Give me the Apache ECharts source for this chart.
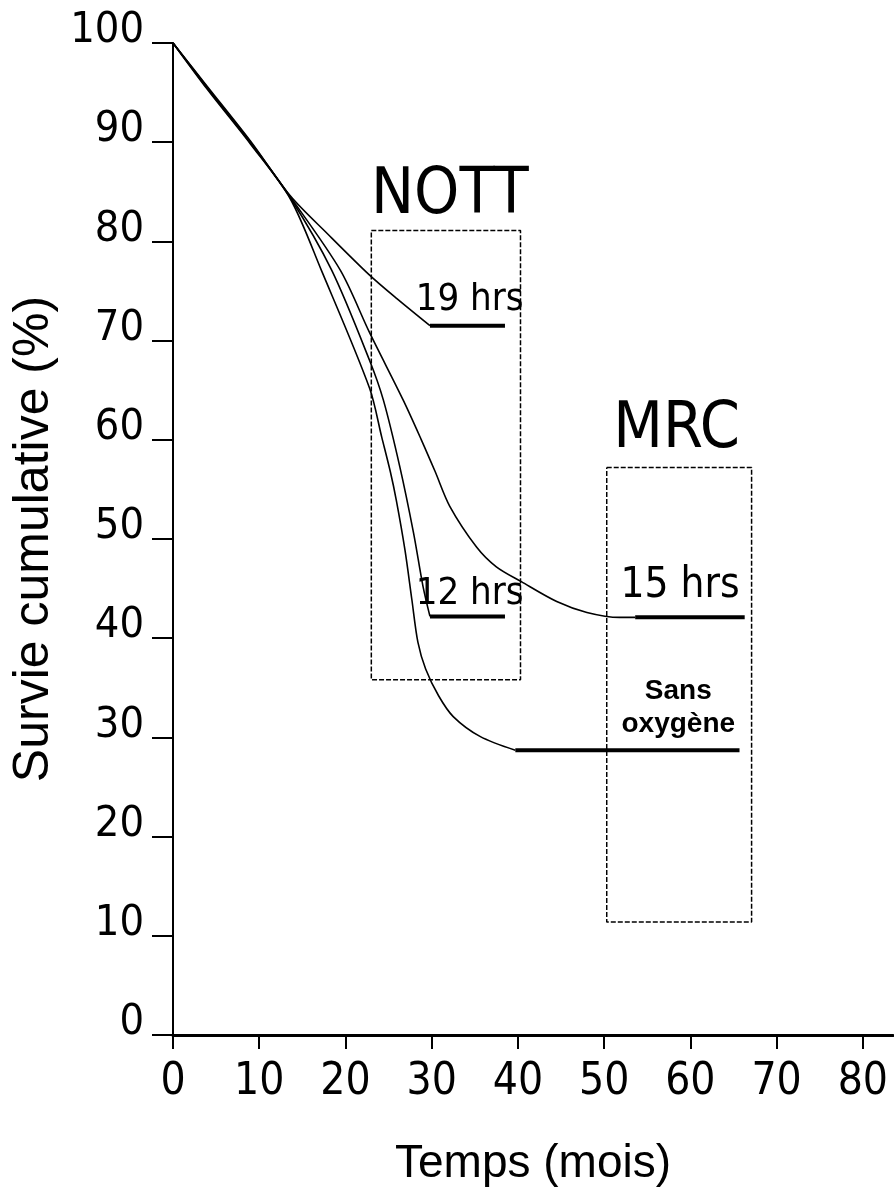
<!DOCTYPE html>
<html><head><meta charset="utf-8">
<script src="https://cdn.jsdelivr.net/npm/echarts@6/dist/echarts.min.js"></script>
<style>html,body{margin:0;padding:0;background:#fff}#c{width:894px;height:1195px}</style>
</head><body><div id="c"></div>
<script>
// ---- data ----
const xTickValues = [0, 10, 20, 30, 40, 50, 60, 70, 80];
const yTickValues = [0, 10, 20, 30, 40, 50, 60, 70, 80, 90, 100];

const curve19h = [[0,100],[4,95.6],[9,90.1],[13.6,84.6],[18,80.7],[22.8,76.6],[26,74.2],[29.8,71.5]];
const curve15h = [[0,100],[4,95.5],[9,90.0],[13.6,84.5],[19.4,77.1],[22.8,70.8],[26.7,64.0],[28.8,60.0],[30.4,56.8],[32.1,53.3],[35.2,49.2],[37.5,47.2],[40.4,45.7],[44.5,43.7],[48,42.6],[51.8,42.1],[53.6,42.1]];
const curve12h = [[0,100],[4,95.4],[9,89.9],[13.6,84.4],[18.4,77.1],[22.8,68.0],[24.4,64.0],[26.3,57.3],[27.9,50.6],[29.0,45.2],[29.8,42.2]];
const curveSansO2 = [[0,100],[4,95.3],[9,89.8],[13.6,84.3],[17.2,77.1],[22.8,65.2],[24.2,60.3],[25.2,56.8],[25.9,53.9],[26.9,48.9],[27.7,43.9],[28.4,39.6],[29.3,36.9],[30.8,34.2],[32.5,32.1],[35.6,30.1],[39.7,28.7]];

const plateau19h = [[29.8,71.5],[38.5,71.5]];
const plateau12h = [[29.8,42.2],[38.5,42.2]];
const plateau15h = [[53.6,42.1],[66.3,42.1]];
const plateauSansO2 = [[39.7,28.7],[65.7,28.7]];

const nottBox = [[23,81.1],[40.3,81.1],[40.3,35.8],[23,35.8],[23,81.1]];
const mrcBox = [[50.3,57.2],[67.1,57.2],[67.1,11.4],[50.3,11.4],[50.3,57.2]];

const annotations = [
  { name: 'NOTT', value: [32.1, 84.5] },
  { name: 'MRC', value: [58.4, 60.9] },
  { name: '19 hrs', value: [34.4, 74.1] },
  { name: '12 hrs', value: [34.4, 44.4] },
  { name: '15 hrs', value: [58.8, 45.3] },
  { name: 'Sans\noxygène', value: [58.6, 33.0] }
];

// ---- styles ----
const STROKE_FONT = "'Liberation Sans Narrow','DejaVu Sans Condensed',sans-serif";
const ARIAL = "'Liberation Sans',Arial,sans-serif";
const annotStyle = {
  'NOTT': { fontSize: 64, fontFamily: STROKE_FONT },
  'MRC': { fontSize: 64, fontFamily: STROKE_FONT },
  '19 hrs': { fontSize: 38, fontFamily: STROKE_FONT },
  '12 hrs': { fontSize: 38, fontFamily: STROKE_FONT },
  '15 hrs': { fontSize: 42, fontFamily: STROKE_FONT },
  'Sans\noxygène': { fontSize: 28, fontFamily: ARIAL, fontWeight: 'bold', lineHeight: 33 }
};

const thin = { color: '#000', width: 1.6 };
const thick = { color: '#000', width: 4 };
const dashed = { color: '#000', width: 1.5, type: [5, 2] };

function lineSeries(data, style, smooth) {
  return {
    type: 'line', data: data, showSymbol: false, symbol: 'none',
    smooth: smooth ? 0.3 : false,
    lineStyle: style, silent: true, animation: false, z: 3
  };
}

const chart = echarts.init(document.getElementById('c'), null, { renderer: 'canvas' });
chart.setOption({
  backgroundColor: '#fff',
  animation: false,
  textStyle: { color: '#000' },
  grid: { left: 173, top: 43, bottom: 160, right: 1, containLabel: false },
  xAxis: {
    type: 'value', min: 0, max: 83.5, interval: 10,
    name: 'Temps (mois)', nameLocation: 'middle', nameGap: 106,
    nameTextStyle: { fontSize: 46, fontFamily: ARIAL, color: '#000' },
    axisLine: { show: true, onZero: false, lineStyle: { color: '#000', width: 3 } },
    axisTick: { show: true, inside: false, length: 14, customValues: xTickValues, lineStyle: { color: '#000', width: 2 } },
    axisLabel: { show: true, customValues: xTickValues, margin: 26, fontSize: 44, fontFamily: STROKE_FONT, color: '#000',
      formatter: v => (v % 10 === 0 ? String(v) : '') },
    splitLine: { show: false }
  },
  yAxis: {
    type: 'value', min: 0, max: 100, interval: 10,
    name: 'Survie cumulative (%)', nameLocation: 'middle', nameGap: 110, nameRotate: 90,
    nameTextStyle: { fontSize: 50, fontFamily: ARIAL, color: '#000' },
    axisLine: { show: true, onZero: false, lineStyle: { color: '#000', width: 2 } },
    axisTick: { show: true, inside: false, length: 21, lineStyle: { color: '#000', width: 2 } },
    axisLabel: { show: true, customValues: yTickValues, margin: 29, fontSize: 43, fontFamily: STROKE_FONT, color: '#000',
      verticalAlign: 'bottom', lineHeight: 24 },
    splitLine: { show: false }
  },
  series: [
    lineSeries(curve19h, thin, true),
    lineSeries(curve15h, thin, true),
    lineSeries(curve12h, thin, true),
    lineSeries(curveSansO2, thin, true),
    lineSeries(plateau19h, thick, false),
    lineSeries(plateau12h, thick, false),
    lineSeries(plateau15h, thick, false),
    lineSeries(plateauSansO2, thick, false),
    lineSeries(nottBox, dashed, false),
    lineSeries(mrcBox, dashed, false),
    {
      type: 'custom', coordinateSystem: 'cartesian2d', silent: true, z: 5,
      data: annotations.map(a => a.value),
      renderItem: function (params, api) {
        const a = annotations[params.dataIndex];
        const s = annotStyle[a.name];
        const p = api.coord([api.value(0), api.value(1)]);
        return {
          type: 'text', x: p[0], y: p[1],
          style: {
            text: a.name, fill: '#000',
            fontSize: s.fontSize, fontFamily: s.fontFamily, fontWeight: s.fontWeight || 'normal',
            lineHeight: s.lineHeight, align: 'center', verticalAlign: 'middle'
          }
        };
      }
    }
  ]
});
</script></body></html>
